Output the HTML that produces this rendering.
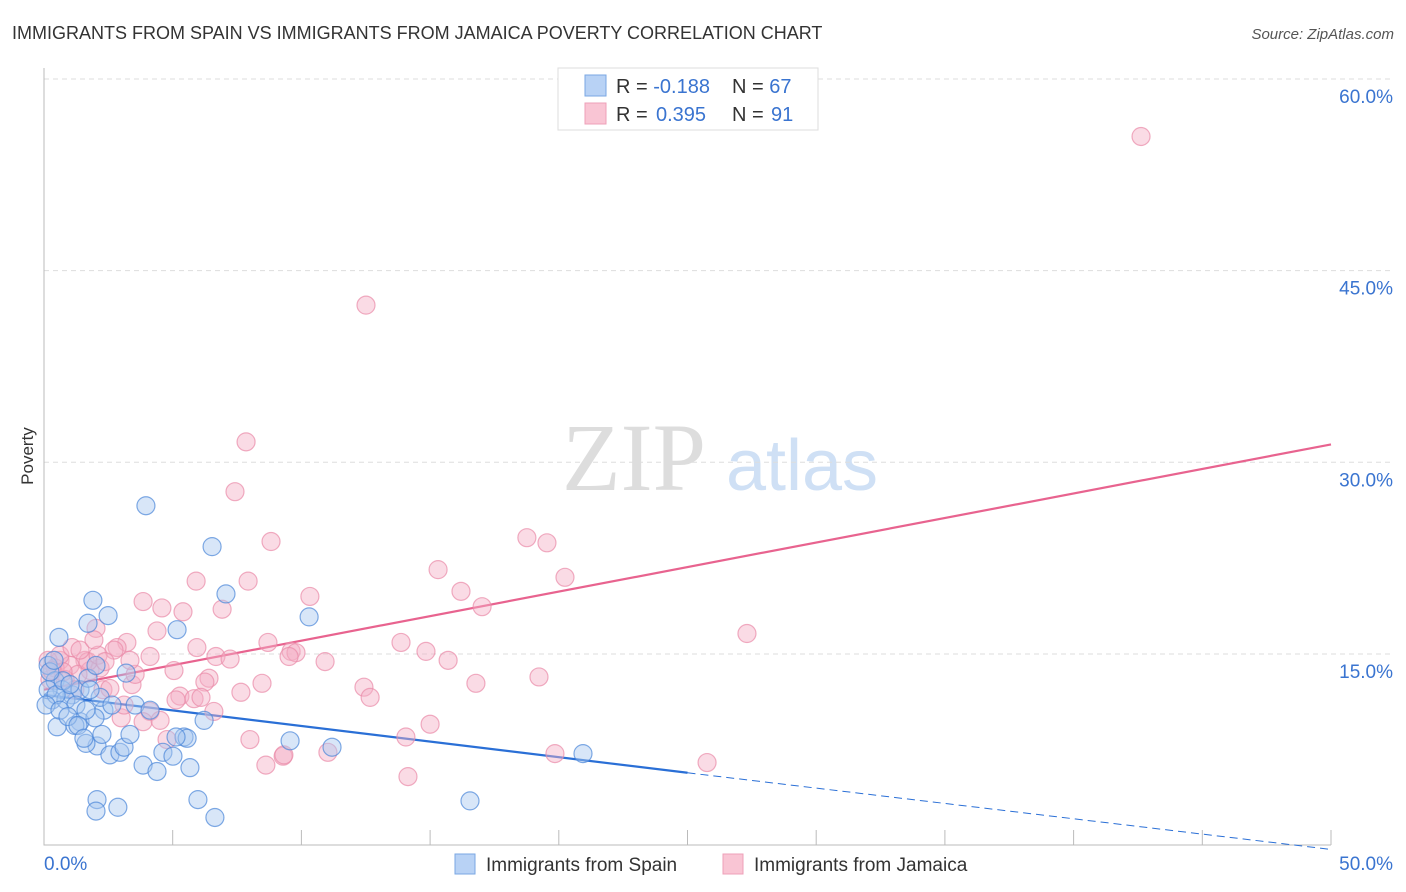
<!DOCTYPE html>
<html><head><meta charset="utf-8"><style>
body{margin:0;background:#fff;font-family:"Liberation Sans",sans-serif;}
svg{display:block}
</style></head><body>
<svg id="chart" width="1406" height="892" viewBox="0 0 1406 892">
<text x="12" y="39" font-size="18" fill="#333">IMMIGRANTS FROM SPAIN VS IMMIGRANTS FROM JAMAICA POVERTY CORRELATION CHART</text>
<text x="1394" y="39" font-size="15" fill="#555" font-style="italic" text-anchor="end">Source: ZipAtlas.com</text>
<text x="33" y="456" font-size="17" fill="#333" transform="rotate(-90 33 456)" text-anchor="middle">Poverty</text>
<g><text x="634" y="490" font-size="96" fill="#ddd" font-family="Liberation Serif,serif" text-anchor="middle">ZIP</text><text x="802" y="490" font-size="72" fill="#cfe0f5" text-anchor="middle">atlas</text></g>
<g id="grid"></g><g id="axes"></g><g id="trend"></g><g id="pts"></g>
<g>
<rect x="558" y="68" width="260" height="62" fill="#fff" stroke="#ddd"/>
<rect x="585" y="75" width="21" height="21" fill="#b8d2f5" stroke="#7aa7e3"/>
<rect x="585" y="103" width="21" height="21" fill="#f9c5d4" stroke="#eea0b8"/>
<text x="616" y="93" font-size="20" fill="#333">R = <tspan fill="#3a74d0">-0.188</tspan><tspan x="732">N = </tspan><tspan fill="#3a74d0">67</tspan></text>
<text x="616" y="121" font-size="20" fill="#333">R = <tspan fill="#3a74d0" x="656">0.395</tspan><tspan x="732">N = </tspan><tspan fill="#3a74d0" x="771">91</tspan></text>
</g>
<g>
<rect x="455" y="854" width="20" height="20" fill="#b8d2f5" stroke="#7aa7e3"/>
<text x="486" y="871" font-size="19" fill="#333">Immigrants from Spain</text>
<rect x="723" y="854" width="20" height="20" fill="#f9c5d4" stroke="#eea0b8"/>
<text x="754" y="871" font-size="19" fill="#333">Immigrants from Jamaica</text>
</g>
</svg>
<script>
const yTicks=[15,30,45,60];
const xTickLabels=["0.0%","50.0%"];
const spainX=[3.96,6.53,1.90,2.49,1.71,0.58,5.17,7.07,10.30,0.16,0.43,0.70,1.09,1.40,1.71,2.02,2.33,1.40,1.98,0.51,1.20,2.06,2.56,2.95,3.11,3.34,2.25,1.63,3.54,4.12,3.19,4.62,3.85,4.39,5.01,5.44,5.56,5.13,5.67,6.22,9.56,11.19,20.94,2.06,2.02,2.87,5.98,6.64,16.55,0.31,0.85,0.16,0.47,0.74,1.24,1.63,2.18,2.64,0.23,1.01,1.79,0.08,0.62,0.93,1.32,1.55,0.39];
const spainY=[26.6,23.4,19.2,18.0,17.4,16.3,16.9,19.7,17.9,14.1,12.9,12.2,11.8,12.2,13.1,14.1,10.6,9.7,10.0,9.3,9.4,7.8,7.1,7.3,7.7,8.7,8.7,8.0,11.0,10.6,13.5,7.3,6.3,5.8,7.0,8.5,8.4,8.5,6.1,9.8,8.2,7.7,7.2,3.6,2.7,3.0,3.6,2.2,3.5,11.4,11.4,12.2,11.8,12.9,11.0,10.6,11.6,11.0,13.6,12.6,12.2,11.0,10.6,10.1,9.4,8.4,14.5];
const jamX=[42.62,12.51,7.85,7.42,8.82,18.76,19.54,15.31,20.24,16.20,17.02,5.91,7.93,3.85,4.58,5.40,6.92,10.33,2.02,4.39,3.22,2.84,5.94,8.70,13.87,14.84,15.70,27.31,4.12,5.05,6.68,7.23,9.60,9.79,9.52,10.92,19.23,16.78,6.41,6.25,8.47,7.65,5.28,5.13,5.83,6.10,6.60,4.12,3.85,3.0,3.11,12.43,12.67,2.72,1.59,1.79,2.18,0.62,1.01,1.32,0.23,0.16,0.43,0.82,1.20,2.29,2.56,3.42,3.54,4.78,8.0,8.62,9.29,9.32,11.03,14.06,15.0,14.14,19.85,25.76,0.62,1.09,1.71,0.74,2.10,2.37,1.40,0.31,1.94,3.34,4.51];
const jamY=[55.5,42.3,31.6,27.7,23.8,24.1,23.7,21.6,21.0,19.9,18.7,20.7,20.7,19.1,18.6,18.3,18.5,19.5,17.0,16.8,15.9,15.5,15.5,15.9,15.9,15.2,14.5,16.6,14.8,13.7,14.8,14.6,15.2,15.1,14.8,14.4,13.2,12.7,13.1,12.8,12.7,12.0,11.7,11.4,11.5,11.6,10.5,10.5,9.7,10.0,11.0,12.4,11.6,15.3,14.5,13.7,13.9,14.5,14.1,13.4,13.0,14.5,13.9,13.0,12.2,12.2,12.3,12.6,13.4,8.3,8.3,6.3,7.0,7.1,7.3,8.5,9.5,5.4,7.2,6.5,14.9,15.5,14.4,13.6,14.9,14.4,15.3,13.7,16.1,14.5,9.8];
const spainTrend=[11.8,5.7,-0.3]; // at x=0,25,50
const jamTrend=[12.2,31.4]; // at x=0,50
const X=v=>44+v*(1331-44)/50, Y=v=>845.6-v*(845.6-79)/60;
const NS="http://www.w3.org/2000/svg";
function mk(p,t,a){const e=document.createElementNS(NS,t);for(const k in a)e.setAttribute(k,a[k]);p.appendChild(e);return e;}
const grid=document.getElementById('grid'),axes=document.getElementById('axes'),trend=document.getElementById('trend'),pts=document.getElementById('pts');
yTicks.forEach(t=>{
 const l=mk(grid,'line',{x1:44,x2:1393,y1:Y(t),y2:Y(t),stroke:'#ddd','stroke-dasharray':'5,4'});
 
 
 const tx=mk(grid,'text',{x:1393,y:Y(t)+24,'font-size':19,fill:'#3a74d0','text-anchor':'end'});
 tx.textContent=t.toFixed(1)+'%';
 
 
});
const ax=mk(axes,'path',{d:'M44,68V845H1331',stroke:'#bbb',fill:'none'});


for(let i=1;i<=10;i++){const tk=mk(axes,'line',{x1:X(i*5),x2:X(i*5),y1:830,y2:845,stroke:'#bbb'});
 
 }
const xl0=mk(axes,'text',{x:44,y:870,'font-size':19,fill:'#3a74d0'});xl0.textContent=xTickLabels[0];


const xl1=mk(axes,'text',{x:1393,y:870,'font-size':19,fill:'#3a74d0','text-anchor':'end'});xl1.textContent=xTickLabels[1];


function dots(xs,ys,fill,stroke,name){xs.forEach((x,i)=>{const c=mk(pts,'circle',{cx:X(x),cy:Y(ys[i]),r:9,fill:fill,'fill-opacity':0.45,stroke:stroke,'stroke-opacity':0.7,'stroke-width':1.2});
 
 });}
dots(jamX,jamY,'#f5b0c5','#e98aa8','point-jamaica');
dots(spainX,spainY,'#a9c8f0','#4a86d8','point-spain');
const t1=mk(trend,'line',{x1:X(0),y1:Y(spainTrend[0]),x2:X(25),y2:Y(spainTrend[1]),stroke:'#2a6fd6','stroke-width':2.2});


const t2=mk(trend,'line',{x1:X(25),y1:Y(spainTrend[1]),x2:X(50),y2:Y(spainTrend[2]),stroke:'#2a6fd6','stroke-width':1,'stroke-dasharray':'8,5'});


const t3=mk(trend,'line',{x1:X(0),y1:Y(jamTrend[0]),x2:X(50),y2:Y(jamTrend[1]),stroke:'#e8638f','stroke-width':2.2});


</script>
</body></html>
